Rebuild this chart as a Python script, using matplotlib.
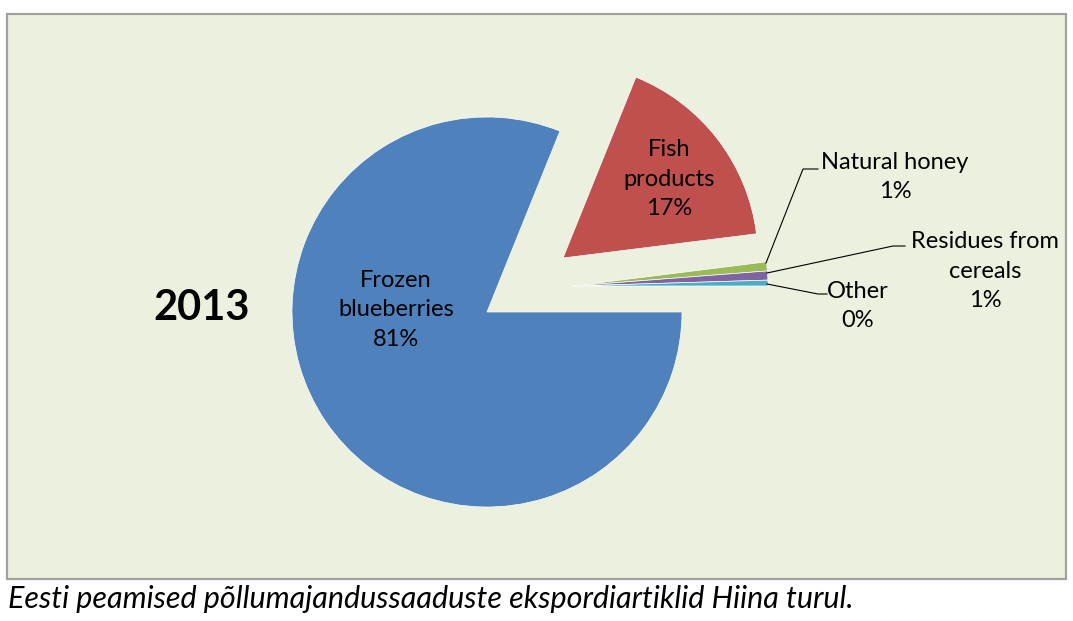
import matplotlib.pyplot as plt
from matplotlib.patches import Rectangle

# data
products = ['Frozen\nblueberries', 'Fish\nproducts', 'Natural honey', 'Residues from\ncereals', 'Other']
shares = [81.1, 16.92, 0.75, 0.75, 0.48]
colors = ['#4F81BD', '#C0504D', '#9BBB59', '#8064A2', '#4BACC6']
year = '2013'
caption = 'Eesti peamised põllumajandussaaduste ekspordiartiklid Hiina turul.'

W, H = 1073, 621
plt.rcParams['font.family'] = ['Lato', 'DejaVu Sans']

fig = plt.figure(figsize=(W / 100, H / 100), dpi=100)
fig.patch.set_facecolor('white')
ax = fig.add_axes([0, 0, 1, 1])

def Y(y):
    # image pixel row -> axes y
    return H - y

# chart area
ax.add_patch(Rectangle((7, Y(579)), 1059, 565, facecolor='#EBF1DE',
                       edgecolor='#A0A0A0', linewidth=1.6, zorder=0))

cx, cy, r = 487, Y(312), 195
wedges, _ = ax.pie(shares, colors=colors, startangle=0, counterclock=False,
                   radius=r, center=(cx, cy),
                   wedgeprops=dict(edgecolor='white', linewidth=0.5))
# pull slices out like the excel chart
wedges[1].set_center((cx + 76, cy + 54))
for w in wedges[2:]:
    w.set_center((cx + 86, cy + 26))

ax.set_xlim(0, W)
ax.set_ylim(0, H)
ax.set_aspect('auto')
ax.axis('off')

pct = [f'{round(v)}%' for v in shares]
fs = 17
ls = 1.5
ax.text(396, Y(310), f'{products[0]}\n{pct[0]}', ha='center', va='center', fontsize=fs, linespacing=ls)
ax.text(669, Y(179), f'{products[1]}\n{pct[1]}', ha='center', va='center', fontsize=fs, linespacing=ls)
ax.text(895, Y(177), f'{products[2]}\n{pct[2]}', ha='center', va='center', fontsize=fs, linespacing=ls)
ax.text(985, Y(271), f'{products[3]}\n{pct[3]}', ha='center', va='center', fontsize=fs, linespacing=ls)
ax.text(858, Y(306), f'{products[4]}\n{pct[4]}', ha='center', va='center', fontsize=fs, linespacing=ls)

# leader lines
lk = dict(color='black', linewidth=0.8)
ax.plot([766, 803, 818], [Y(263), Y(169), Y(169)], **lk)
ax.plot([767, 893, 905], [Y(273), Y(246), Y(246)], **lk)
ax.plot([767, 818, 827], [Y(284), Y(294), Y(294)], **lk)

ax.text(202, Y(308), year, ha='center', va='center', fontsize=30, fontweight='bold')

fig.text(8 / W, 1 - 599 / H, caption, ha='left', va='center', fontsize=22, style='italic')

fig.savefig('out.png', dpi=100, facecolor='white')
